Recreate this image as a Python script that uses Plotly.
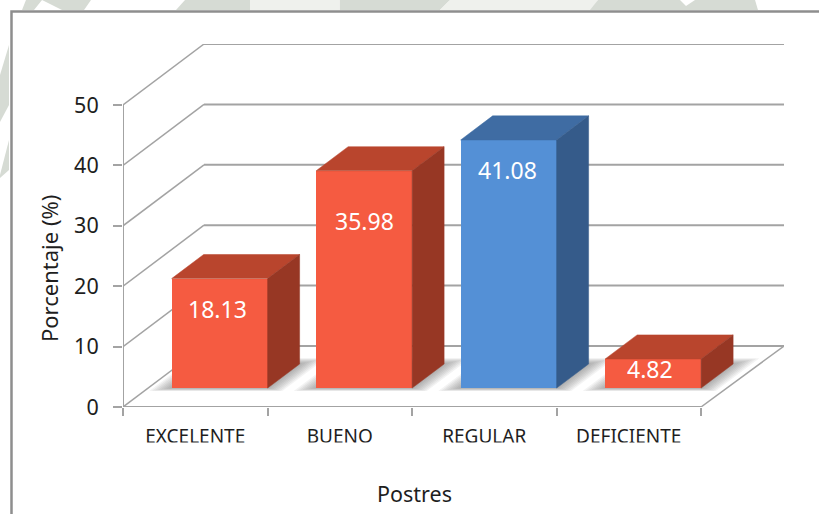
import plotly.graph_objects as go

# Encuesta de postres: porcentaje por categoría
categorias = ["EXCELENTE", "BUENO", "REGULAR", "DEFICIENTE"]
porcentajes = [18.13, 35.98, 41.08, 4.82]
marcas_y = [0, 10, 20, 30, 40, 50]

# Caras de cada barra: frontal, superior y lateral
cara_frontal = ["#F55B41", "#F55B41", "#5490D6", "#F55B41"]
cara_superior = ["#B9452D", "#B9452D", "#3F6CA3", "#B9452D"]
cara_lateral = ["#973724", "#973724", "#355B8A", "#973724"]

# Ajuste en píxeles de cada etiqueta respecto a la arista superior de su barra
ajuste_etiqueta_x = [-2, 0, -1, -3]
ajuste_etiqueta_y = [-30, -50, -30, -10]

ANCHO, ALTO = 819, 514
X0_PX, X4_PX, XF_PX = 123, 701, 784
Y0_PX, Y50_PX, YF_PX = 407, 105, 44
PX_CAT = (X4_PX - X0_PX) / len(categorias)
PX_UNI = (Y0_PX - Y50_PX) / 50

# Proyección oblicua: desplazamiento del fondo del gráfico en unidades de los ejes
FONDO_X = 81 / PX_CAT
FONDO_Y = 61 / PX_UNI
PROF_FRENTE, PROF_ATRAS = 0.31, 0.705
MARGEN_BARRA, ANCHO_BARRA = 0.163, 0.664

GRIS = "#A3A3A3"
TEXTO = "#1E1E1E"
FUENTE = "Noto Sans"


def proyectar(x, valor, prof):
    return x + prof * FONDO_X, valor + prof * FONDO_Y


def ruta(puntos):
    return "M " + " L ".join(f"{x:.4f},{y:.4f}" for x, y in puntos) + " Z"


def linea(puntos, ancho=2.0):
    trazo = "M " + " L ".join(f"{x:.4f},{y:.4f}" for x, y in puntos)
    return dict(type="path", xref="x", yref="y", path=trazo, layer="below",
                line=dict(color=GRIS, width=ancho))


def poligono_px(puntos, color):
    """Polígono decorativo del fondo de página, en píxeles de la página."""
    pts = [(x / ANCHO, 1 - y / ALTO) for x, y in puntos]
    return dict(type="path", xref="paper", yref="paper", path=ruta(pts),
                layer="below", fillcolor=color, line=dict(width=0))


formas = []

# Motivo gris verdoso que asoma alrededor del marco
MEDIO, CLARO = "#D6DBD4", "#EFF1ED"
for pts, c in [
    ([(26, 0), (91, 0), (84, 10), (62, 10), (42, 0), (34, 10), (22, 10)], MEDIO),
    ([(185, 0), (250, 0), (250, 10), (176, 10)], MEDIO),
    ([(250, 0), (340, 0), (340, 10), (250, 10)], CLARO),
    ([(340, 0), (450, 0), (440, 10), (340, 10)], MEDIO),
    ([(450, 0), (598, 0), (592, 10), (440, 10)], CLARO),
    ([(598, 0), (680, 0), (690, 10), (590, 10)], MEDIO),
    ([(695, 0), (755, 0), (758, 10), (680, 10)], MEDIO),
    ([(0, 75), (9, 45), (9, 105), (0, 122)], MEDIO),
    ([(0, 175), (9, 140), (9, 170), (0, 178)], MEDIO),
]:
    formas.append(poligono_px(pts, c))

# Marco del área del gráfico, abierto por la derecha y por abajo
marco = [(11.5 / ANCHO, 0), (11.5 / ANCHO, 1 - 11.5 / ALTO), (1, 1 - 11.5 / ALTO)]
formas.append(dict(type="path", xref="paper", yref="paper", layer="below",
                   path="M " + " L ".join(f"{x:.5f},{y:.5f}" for x, y in marco),
                   line=dict(color="#8E8E8E", width=2.5)))

# Líneas de división: pared lateral, más fina, y pared del fondo
x_fin = (XF_PX - X0_PX) / PX_CAT
for v in marcas_y:
    formas.append(linea([(0, v), proyectar(0, v, 1)], 1.5))
    formas.append(linea([proyectar(0, v, 1), (x_fin, v + FONDO_Y)], 2.0))

# Suelo y ejes dibujados a la longitud real de cada uno
formas.append(linea([(0, 0), (len(categorias), 0)], 2.0))
formas.append(linea([(len(categorias), 0), (x_fin, FONDO_Y)], 1.5))
formas.append(linea([(0, 0), (0, marcas_y[-1])], 2.0))

# Sombra difusa sobre el suelo, hecha con capas translúcidas
for i in range(len(categorias)):
    izq = i + MARGEN_BARRA
    der = izq + ANCHO_BARRA
    for e in range(1, 9):
        dx = 0.016 * e
        dp = 0.012 * e
        huella = [
            proyectar(izq - dx, 0, PROF_FRENTE - dp * 0.5),
            proyectar(der + dx, 0, PROF_FRENTE - dp * 0.5),
            proyectar(der + dx, 0, PROF_ATRAS + dp),
            proyectar(izq - dx, 0, PROF_ATRAS + dp),
        ]
        formas.append(dict(type="path", xref="x", yref="y", path=ruta(huella),
                           layer="below", fillcolor="rgba(90,90,90,0.075)",
                           line=dict(width=0)))

# Banda blanca al pie de las etiquetas de categoría
formas.append(dict(type="rect", xref="paper", yref="paper", layer="above",
                   x0=120 / ANCHO, x1=705 / ANCHO,
                   y0=1 - 462 / ALTO, y1=1 - 442.5 / ALTO,
                   fillcolor="#FFFFFF", line=dict(width=0)))

fig = go.Figure()

# Caras frontales como barras reales
base_frente = PROF_FRENTE * FONDO_Y
centros = [i + MARGEN_BARRA + ANCHO_BARRA / 2 + PROF_FRENTE * FONDO_X
           for i in range(len(categorias))]
fig.add_trace(go.Bar(x=centros, y=porcentajes, base=base_frente, width=ANCHO_BARRA,
                     marker=dict(color=cara_frontal, line=dict(width=0)),
                     hoverinfo="skip", showlegend=False))

# Caras superior y lateral, proyectadas a partir del mismo valor
for i, valor in enumerate(porcentajes):
    izq = i + MARGEN_BARRA
    der = izq + ANCHO_BARRA
    a, b = PROF_FRENTE, PROF_ATRAS
    superior = [proyectar(izq, valor, a), proyectar(der, valor, a),
                proyectar(der, valor, b), proyectar(izq, valor, b),
                proyectar(izq, valor, a)]
    lateral = [proyectar(der, 0, a), proyectar(der, valor, a),
               proyectar(der, valor, b), proyectar(der, 0, b),
               proyectar(der, 0, a)]
    for pts, color in [(superior, cara_superior[i]), (lateral, cara_lateral[i])]:
        fig.add_trace(go.Scatter(x=[p[0] for p in pts], y=[p[1] for p in pts],
                                 mode="lines", fill="toself", fillcolor=color,
                                 line=dict(width=0.5, color=color),
                                 hoverinfo="skip", showlegend=False))

# Etiquetas de valor dentro de cada barra
anotaciones = [
    dict(x=c, y=base_frente + v, xref="x", yref="y", text=f"{v:.2f}",
         showarrow=False, xanchor="center", yanchor="middle",
         xshift=dx, yshift=dy, font=dict(family=FUENTE, size=23, color="#FFFFFF"))
    for c, v, dx, dy in zip(centros, porcentajes, ajuste_etiqueta_x, ajuste_etiqueta_y)
]

# Títulos de los ejes
anotaciones.append(dict(x=414 / ANCHO, y=1 - 493 / ALTO, xref="paper", yref="paper",
                        text="Postres", showarrow=False, xanchor="center",
                        yanchor="middle",
                        font=dict(family=FUENTE, size=21.5, color=TEXTO)))
anotaciones.append(dict(x=49 / ANCHO, y=1 - 269 / ALTO, xref="paper", yref="paper",
                        text="Porcentaje (%)", showarrow=False, textangle=-90,
                        xanchor="center", yanchor="middle",
                        font=dict(family=FUENTE, size=22, color=TEXTO)))

fig.update_layout(
    width=ANCHO, height=ALTO,
    margin=dict(l=0, r=0, t=0, b=0),
    paper_bgcolor="#FFFFFF", plot_bgcolor="rgba(0,0,0,0)",
    showlegend=False, bargap=0,
    shapes=formas, annotations=anotaciones,
    xaxis=dict(
        domain=[X0_PX / ANCHO, XF_PX / ANCHO],
        range=[0, x_fin],
        automargin=False,
        tickmode="array",
        tickvals=[i + 0.5 for i in range(len(categorias))],
        ticktext=categorias,
        ticks="", showgrid=False, zeroline=False, showline=False,
        ticklabelstandoff=16,
        tickfont=dict(family=FUENTE, size=19, color=TEXTO),
        minor=dict(tickmode="array", tickvals=list(range(len(categorias) + 1)),
                   ticks="outside", ticklen=8, tickwidth=2, tickcolor=GRIS,
                   showgrid=False),
    ),
    yaxis=dict(
        domain=[1 - Y0_PX / ALTO, 1 - YF_PX / ALTO],
        range=[0, (Y0_PX - YF_PX) / PX_UNI],
        automargin=False,
        tickmode="array", tickvals=marcas_y,
        ticks="outside", ticklen=9, tickwidth=2, tickcolor=GRIS,
        ticklabelstandoff=10,
        showgrid=False, zeroline=False, showline=False,
        tickfont=dict(family=FUENTE, size=21.5, color=TEXTO),
    ),
)

fig.write_html("out.html")
